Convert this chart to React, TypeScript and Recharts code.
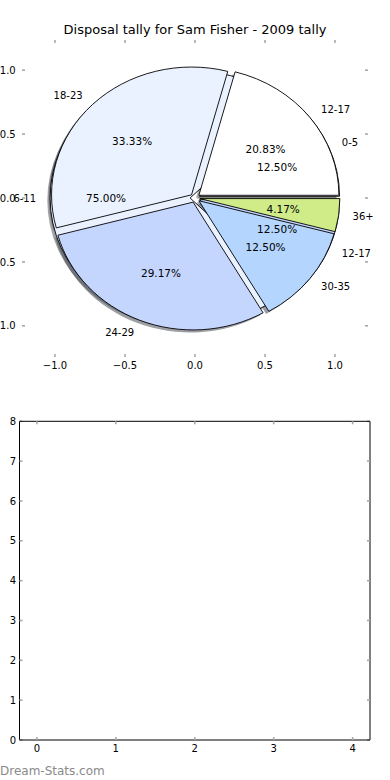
import React from "react";
import { PieChart, Pie, Cell, ComposedChart, Scatter, XAxis, YAxis } from "recharts";

// 2009 tally, outer pie (drawn on top)
const ageGroups2009 = ["12-17", "18-23", "24-29", "30-35", "36+"];
const disposals2009 = [5, 8, 7, 3, 1];
// second pie, drawn underneath
const juniorGroups = ["0-5", "6-11", "12-17"];
const juniorDisposals = [3, 18, 3];

const colours2009 = ["#ffffff", "#ebf2ff", "#c5d6fe", "#b3d5fe", "#cfec89"];
const juniorColours = ["#ffffff", "#ebf2ff", "#c5d6fe"];

const pieTicks = [-1, -0.5, 0, 0.5, 1];
const emptyXTicks = [0, 1, 2, 3, 4];
const emptyYTicks = [0, 1, 2, 3, 4, 5, 6, 7, 8];

const FONT = "'DejaVu Sans', sans-serif";
const TICK = "#a8a8a8";
const RAD = Math.PI / 180;
const KY = 127.8 / 140; // axes are not equal, so the pie is an ellipse
const EXPLODE = 0.035;
const SHADOW = 0.02;

const pieA = ageGroups2009.map((name, i) => ({ name, value: disposals2009[i] }));
const pieB = juniorGroups.map((name, i) => ({ name, value: juniorDisposals[i] }));

function shade(hex: string) {
  const n = parseInt(hex.slice(1), 16);
  const r = Math.round(((n >> 16) & 255) * 0.3);
  const g = Math.round(((n >> 8) & 255) * 0.3);
  const b = Math.round((n & 255) * 0.3);
  return `rgb(${r},${g},${b})`;
}

function wedge(p: any, shadow: boolean) {
  const { cx, cy, startAngle, endAngle, outerRadius } = p;
  const mid = (p.midAngle ?? (startAngle + endAngle) / 2) * RAD;
  const ry = outerRadius * KY;
  const ox = cx + EXPLODE * outerRadius * Math.cos(mid) - (shadow ? SHADOW * outerRadius : 0);
  const oy = cy - EXPLODE * ry * Math.sin(mid) + (shadow ? SHADOW * ry : 0);
  const x1 = ox + outerRadius * Math.cos(startAngle * RAD);
  const y1 = oy - ry * Math.sin(startAngle * RAD);
  const x2 = ox + outerRadius * Math.cos(endAngle * RAD);
  const y2 = oy - ry * Math.sin(endAngle * RAD);
  const large = Math.abs(endAngle - startAngle) > 180 ? 1 : 0;
  const d = `M${ox},${oy} L${x1},${y1} A${outerRadius},${ry} 0 ${large} 0 ${x2},${y2} Z`;
  if (shadow) {
    return <path d={d} fill={shade(p.fill)} fillOpacity={0.5} stroke="none" />;
  }
  return <path d={d} fill={p.fill} stroke="#000" strokeWidth={0.9} strokeLinejoin="miter" />;
}

const wedgeShape = (p: any) => wedge(p, false);
const shadowShape = (p: any) => wedge(p, true);
const noShape = () => <g />;

function pieText(dist: number, pct: boolean) {
  return (p: any) => {
    const { cx, cy, outerRadius, midAngle, percent, name } = p;
    const m = midAngle * RAD;
    const ry = outerRadius * KY;
    const x = cx + (EXPLODE + dist) * outerRadius * Math.cos(m);
    const y = cy - (EXPLODE + dist) * ry * Math.sin(m);
    const anchor = pct ? "middle" : Math.cos(m) > 0 ? "start" : "end";
    return (
      <text x={x} y={y} textAnchor={anchor} dominantBaseline="central" fontFamily={FONT}
        fontSize={pct ? 10.5 : 10} fill="#000">
        {pct ? `${(percent * 100).toFixed(2)}%` : name}
      </text>
    );
  };
}

function bothTexts(p: any) {
  return (
    <g>
      {pieText(1.1, false)(p)}
      {pieText(0.6, true)(p)}
    </g>
  );
}

function makeTick(side: string, fmt: (v: number) => string, gap: number, label: boolean) {
  return (props: any) => {
    const { x, y, payload } = props;
    const v = payload.value;
    let line, text = null;
    if (side === "bottom") {
      line = <line x1={x} x2={x} y1={y} y2={y - 3} stroke={TICK} strokeWidth={1.6} />;
      if (label) text = <text x={x} y={y + gap} textAnchor="middle" fontFamily={FONT} fontSize={10} fill="#000">{fmt(v)}</text>;
    } else if (side === "top") {
      line = <line x1={x} x2={x} y1={y} y2={y + 3} stroke={TICK} strokeWidth={1.6} />;
    } else if (side === "left") {
      line = <line x1={x} x2={x + 3} y1={y} y2={y} stroke={TICK} strokeWidth={1.6} />;
      if (label) text = <text x={x - gap} y={y + 3.6} textAnchor="end" fontFamily={FONT} fontSize={10} fill="#000">{fmt(v)}</text>;
    } else {
      line = <line x1={x} x2={x - 3} y1={y} y2={y} stroke={TICK} strokeWidth={1.6} />;
    }
    return <g>{line}{text}</g>;
  };
}

const pieFmt = (v: number) => v.toFixed(1).replace("-", "\u2212");
const intFmt = (v: number) => String(v);

const axisBits = { interval: 0 as const, tickLine: false, tickSize: 0, tickMargin: 0, allowDataOverflow: true };

// one chart per direction: the value axes of a horizontal chart are the Y axes,
// those of a vertical chart are the X axes
function Frame({ w, h, left, right, top, bottom, xDomain, yDomain, xTicks, yTicks, fmt, line, leftGap }: any) {
  const axisLine = line ? { stroke: "#000" } : false;
  return (
    <div style={{ position: "relative", width: w, height: h }}>
      <div style={{ position: "absolute", left: 0, top: 0 }}>
        <ComposedChart width={w} height={h} margin={{ top, bottom, left: 0, right: 0 }}>
          <YAxis yAxisId="l" orientation="left" type="number" domain={yDomain} ticks={yTicks} width={left}
            axisLine={axisLine} tick={makeTick("left", fmt, leftGap, true)} {...axisBits} />
          <YAxis yAxisId="r" orientation="right" type="number" domain={yDomain} ticks={yTicks} width={right}
            axisLine={axisLine} tick={makeTick("right", fmt, 0, false)} {...axisBits} />
          <Scatter yAxisId="l" data={[]} isAnimationActive={false} />
        </ComposedChart>
      </div>
      <div style={{ position: "absolute", left: 0, top: 0 }}>
        <ComposedChart layout="vertical" width={w} height={h} margin={{ top: 0, bottom: 0, left, right }}>
          <XAxis xAxisId="b" orientation="bottom" type="number" domain={xDomain} ticks={xTicks} height={bottom}
            axisLine={axisLine} tick={makeTick("bottom", fmt, 11.6, true)} {...axisBits} />
          <XAxis xAxisId="t" orientation="top" type="number" domain={xDomain} ticks={xTicks} height={top}
            axisLine={axisLine} tick={makeTick("top", fmt, 0, false)} {...axisBits} />
          <Scatter xAxisId="b" data={[]} isAnimationActive={false} />
        </ComposedChart>
      </div>
    </div>
  );
}

export default function App() {
  const zero = { top: 0, right: 0, bottom: 0, left: 0 };
  return (
    <div style={{ position: "absolute", left: 0, top: 0, width: 390, height: 780, background: "#fff", fontFamily: FONT }}>
      <div style={{ position: "absolute", left: 0, top: 22, width: 390, textAlign: "center", fontSize: 13, lineHeight: "15px", color: "#000" }}>
        Disposal tally for Sam Fisher - 2009 tally
      </div>

      {/* axes behind the pie */}
      <div style={{ position: "absolute", left: 0, top: 0 }}>
        <Frame w={390} h={380} left={22} right={22} top={40} bottom={23}
          xDomain={[-1.2357, 1.2357]} yDomain={[-1.244, 1.236]} xTicks={pieTicks} yTicks={pieTicks}
          fmt={pieFmt} line={false} leftGap={6.3} />
      </div>

      <div style={{ position: "absolute", left: 0, top: 0 }}>
        <PieChart width={390} height={380} margin={zero}>
          <Pie data={pieB} dataKey="value" nameKey="name" cx={195} cy={198} outerRadius={140}
            shape={shadowShape} isAnimationActive={false} label={false} labelLine={false}>
            {pieB.map((d, i) => <Cell key={d.name} fill={juniorColours[i]} />)}
          </Pie>
          <Pie data={pieA} dataKey="value" nameKey="name" cx={195} cy={198} outerRadius={140}
            shape={shadowShape} isAnimationActive={false} label={false} labelLine={false}>
            {pieA.map((d, i) => <Cell key={d.name} fill={colours2009[i]} />)}
          </Pie>
          <Pie data={pieB} dataKey="value" nameKey="name" cx={195} cy={198} outerRadius={140}
            shape={wedgeShape} isAnimationActive={false} label={false} labelLine={false}>
            {pieB.map((d, i) => <Cell key={d.name} fill={juniorColours[i]} />)}
          </Pie>
          <Pie data={pieA} dataKey="value" nameKey="name" cx={195} cy={198} outerRadius={140}
            shape={wedgeShape} isAnimationActive={false} label={false} labelLine={false}>
            {pieA.map((d, i) => <Cell key={d.name} fill={colours2009[i]} />)}
          </Pie>
          <Pie data={pieB} dataKey="value" nameKey="name" cx={195} cy={198} outerRadius={140}
            shape={noShape} fill="none" stroke="none" isAnimationActive={false} label={bothTexts} labelLine={false} />
          <Pie data={pieA} dataKey="value" nameKey="name" cx={195} cy={198} outerRadius={140}
            shape={noShape} fill="none" stroke="none" isAnimationActive={false} label={bothTexts} labelLine={false} />
        </PieChart>
      </div>

      {/* empty second axes */}
      <div style={{ position: "absolute", left: 0, top: 380 }}>
        <Frame w={390} h={400} left={19.5} right={20} top={41.3} bottom={40}
          xDomain={[-0.22, 4.22]} yDomain={[0, 8]} xTicks={emptyXTicks} yTicks={emptyYTicks}
          fmt={intFmt} line={true} leftGap={3.5} />
      </div>

      <div style={{ position: "absolute", left: 0, top: 764, fontSize: 12, lineHeight: "14px", color: "#8a8a8a" }}>
        Dream-Stats.com
      </div>
    </div>
  );
}
